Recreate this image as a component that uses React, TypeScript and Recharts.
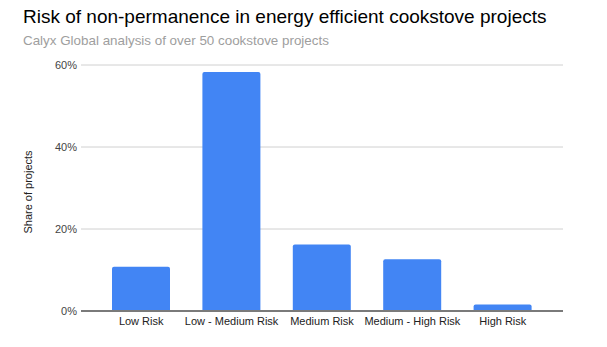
import { BarChart, Bar, XAxis, YAxis, CartesianGrid, Label } from "recharts";

const categories = ["Low Risk", "Low - Medium Risk", "Medium Risk", "Medium - High Risk", "High Risk"];
const shares = [10.8, 58.3, 16.2, 12.6, 1.6];
const yTicks = [0, 20, 40, 60];

const data = categories.map((name, i) => ({ name, share: shares[i] }));

const FONT = "Arial, 'Liberation Sans', sans-serif";

// eslint-disable-next-line @typescript-eslint/no-explicit-any
function YLabel({ viewBox }: any) {
    const cy = viewBox ? viewBox.y + viewBox.height / 2 : 188;
    return (
        <text
            x={32}
            y={cy + 4}
            transform={`rotate(-90, 32, ${cy + 4})`}
            textAnchor="middle"
            fontSize={11}
            fill="#222"
            fontFamily={FONT}
        >
            Share of projects
        </text>
    );
}

export default function App() {
    return (
        <div style={{ position: "absolute", left: 0, top: 0, width: 607, height: 347, background: "#fff", fontFamily: FONT }}>
            <div style={{ position: "absolute", left: 23, top: 6, fontSize: 19, color: "#000", whiteSpace: "nowrap" }}>
                Risk of non-permanence in energy efficient cookstove projects
            </div>
            <div style={{ position: "absolute", left: 23, top: 33, fontSize: 13.4, color: "#9e9e9e", whiteSpace: "nowrap" }}>
                Calyx Global analysis of over 50 cookstove projects
            </div>
            <div style={{ position: "absolute", left: 0, top: 0 }}>
                <BarChart
                    width={607}
                    height={347}
                    data={data}
                    margin={{ top: 65, right: 44, left: 0, bottom: 0 }}
                    barCategoryGap={16}
                >
                    <CartesianGrid vertical={false} stroke="#d0d0d0" />
                    <XAxis
                        dataKey="name"
                        height={36}
                        padding={{ left: 15, right: 15 }}
                        tickLine={false}
                        tickSize={0}
                        tickMargin={6}
                        axisLine={{ stroke: "#7a7a7a", strokeWidth: 2 }}
                        tick={{ fontSize: 11, fill: "#222", fontFamily: FONT }}
                        interval={0}
                    />
                    <YAxis
                        width={81}
                        domain={[0, 60]}
                        ticks={yTicks}
                        tickFormatter={(v: number) => `${v}%`}
                        axisLine={false}
                        tickLine={false}
                        tickSize={0}
                        tickMargin={4}
                        tick={{ fontSize: 11, fill: "#444", fontFamily: FONT }}
                    >
                        <Label content={<YLabel />} />
                    </YAxis>
                    <Bar dataKey="share" fill="#4285f4" radius={[2, 2, 0, 0]} isAnimationActive={false} />
                </BarChart>
            </div>
        </div>
    );
}
